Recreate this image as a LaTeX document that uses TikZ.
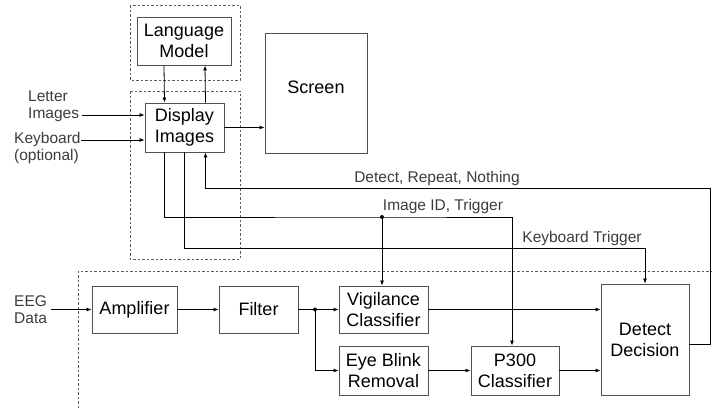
\documentclass[tikz,border=0pt]{standalone}
\usepackage{fontspec}
\setmainfont{Liberation Sans}
\usepackage{tikz}
\usetikzlibrary{positioning, arrows.meta, calc}
\definecolor{boxline}{RGB}{80,80,80}
\definecolor{labelcolor}{RGB}{60,60,60}
\definecolor{dashcolor}{RGB}{90,90,90}

\begin{document}
\begin{tikzpicture}[x=1pt, y=-1pt,
    blockbox/.style={draw=boxline, line width=0.9pt, fill=white, align=center, inner sep=0pt, font=\fontsize{18}{21}\selectfont},
    outlabel/.style={text=labelcolor, align=left, inner sep=0pt, font=\fontsize{15.5}{17}\selectfont},
    sig/.style={line width=0.8pt, -{Latex[length=5pt,width=4pt]}},
    wire/.style={line width=0.8pt},
    group/.style={draw=dashcolor, line width=0.9pt, dash pattern=on 2.5pt off 2pt},
    junction/.style={circle, fill=black, inner sep=0pt, minimum size=4pt}]
    \useasboundingbox (0,0) rectangle (712,408);

    % Groupes en pointillés
    \draw[group] (130,5) rectangle (240,80);
    \draw[group] (130,91) rectangle (240,259);
    \draw[group] (78,408) -- (78,271) -- (712,271);

    % Blocs du haut
    \node[blockbox, minimum width=94pt, minimum height=48pt] (lm) at (184,41) {Language\\Model};
    \node[blockbox, minimum width=79pt, minimum height=49pt] (disp) at (184.5,127.5) {Display\\Images};
    \node[blockbox, minimum width=102pt, minimum height=120pt] (screen) at (316,93) {};
    \node[font=\fontsize{18}{21}\selectfont, inner sep=0pt] (screentxt) at (316,87) {Screen};

    % Blocs du bas
    \node[blockbox, minimum width=85pt, minimum height=47pt] (amp) at (134.5,309.5) {Amplifier};
    \node[blockbox, minimum width=79pt, minimum height=47pt] (filt) at (258.5,309.5) {Filter};
    \node[blockbox, minimum width=89pt, minimum height=47pt] (vig) at (383.5,309.5) {Vigilance\\Classifier};
    \node[blockbox, minimum width=89pt, minimum height=49pt] (eye) at (383.5,370.5) {Eye Blink\\Removal};
    \node[blockbox, minimum width=88pt, minimum height=49pt] (p300) at (515,370.5) {P300\\Classifier};
    \node[blockbox, minimum width=88pt, minimum height=111pt] (det) at (645,339.5) {Detect\\Decision};

    % Entrées
    \node[outlabel, anchor=west] (letters) at (28,106) {Letter\\Images};
    \node[outlabel, anchor=west] (keyb) at (14,148) {Keyboard\\(optional)};
    \node[outlabel, anchor=west] (eeg) at (14,310) {EEG\\Data};
    \coordinate (letin) at (82,115);
    \coordinate (keyin) at (81,140);
    \draw[sig] (letin) -- (letin -| disp.west);
    \draw[sig] (keyin) -- (keyin -| disp.west);
    \draw[sig] (eeg.east |- amp.west) ++(4,0) -- (amp.west);

    % Modèle de langage <-> affichage
    \draw[sig] ([xshift=-20pt]lm.south) -- ([xshift=-20pt]disp.north);
    \draw[sig] ([xshift=21pt]disp.north) -- ([xshift=21pt]lm.south);
    \draw[sig] (disp.east) -- (disp.east -| screen.west);

    % Chaîne EEG
    \draw[sig] (amp) -- (filt);
    \node[junction] (split) at (315,309.5) {};
    \draw[wire] (filt.east) -- (split.center);
    \draw[sig] (split.center) -- (vig.west);
    \draw[sig] (split.center) |- (eye.west);
    \draw[sig] (eye) -- (p300);
    \draw[sig] (vig.east) -- (vig.east -| det.west);
    \draw[sig] (p300.east) -- (p300.east -| det.west);

    % Retour de décision
    \coordinate (fbcorner) at (710,188);
    \draw[sig] ([yshift=-4.5pt]det.east) -| (fbcorner) -| ([xshift=21pt]disp.south);
    \node[outlabel] (fblabel) at (437,178) {Detect, Repeat, Nothing};

    % Identifiant d'image et déclenchement
    \node[junction] (idtap) at (382,217) {};
    \draw[sig] ([xshift=-20pt]disp.south) |- (idtap.center) -| ([xshift=-3pt]p300.north);
    \draw[sig] (idtap.center) -- (idtap |- vig.north);
    \node[outlabel] (idlabel) at (443,206) {Image ID, Trigger};

    % Déclenchement clavier
    \coordinate (kbturn) at (184.5,248);
    \draw[sig] (disp.south) -- (kbturn) -| (det.north);
    \node[outlabel] (kblabel) at (582,238) {Keyboard Trigger};
\end{tikzpicture}
\end{document}
